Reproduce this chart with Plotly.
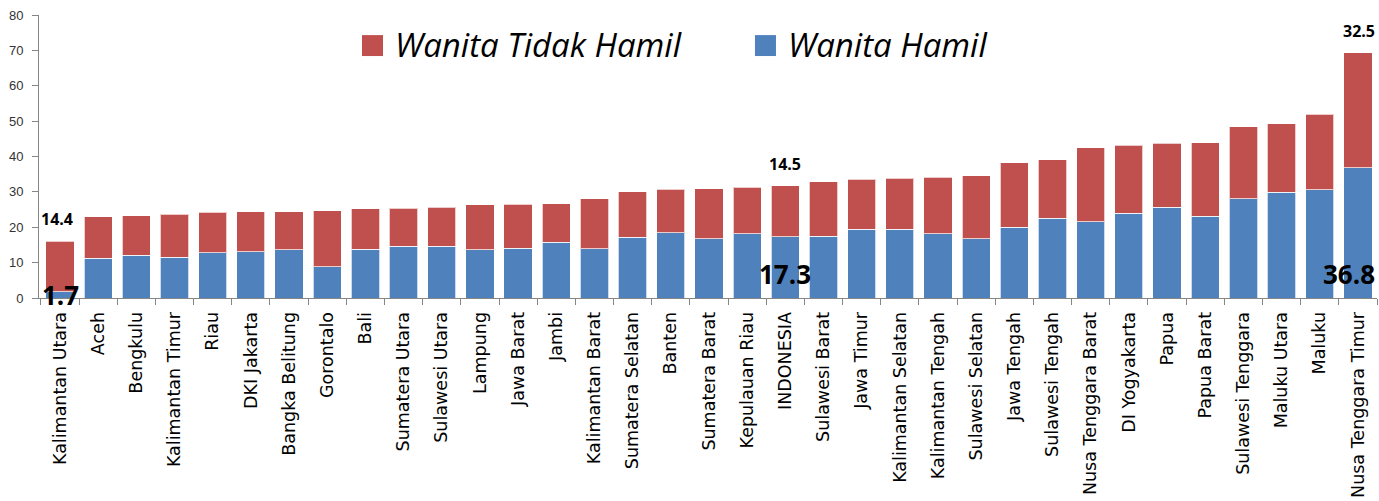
import plotly.graph_objects as go

categories = ["Kalimantan Utara", "Aceh", "Bengkulu", "Kalimantan Timur", "Riau", "DKI Jakarta",
              "Bangka Belitung", "Gorontalo", "Bali", "Sumatera Utara", "Sulawesi Utara", "Lampung",
              "Jawa Barat", "Jambi", "Kalimantan Barat", "Sumatera Selatan", "Banten", "Sumatera Barat",
              "Kepulauan Riau", "INDONESIA", "Sulawesi Barat", "Jawa Timur", "Kalimantan Selatan",
              "Kalimantan Tengah", "Sulawesi Selatan", "Jawa Tengah", "Sulawesi Tengah",
              "Nusa Tenggara Barat", "DI Yogyakarta", "Papua", "Papua Barat", "Sulawesi Tenggara",
              "Maluku Utara", "Maluku", "Nusa Tenggara Timur"]

wanita_hamil = [1.7, 11.2, 12.1, 11.5, 12.8, 13.1, 13.6, 8.8, 13.8, 14.7, 14.7, 13.6,
                14.0, 15.8, 13.9, 17.2, 18.5, 16.7, 18.2, 17.3, 17.4, 19.5, 19.5,
                18.1, 16.8, 20.0, 22.6, 21.5, 24.0, 25.7, 23.1, 28.0, 29.9, 30.6, 36.8]

wanita_tidak_hamil = [14.4, 11.8, 11.1, 12.2, 11.5, 11.3, 10.8, 15.9, 11.5, 10.7, 11.0, 12.7,
                      12.5, 10.9, 14.1, 12.8, 12.3, 14.2, 13.1, 14.5, 15.4, 14.0, 14.3,
                      16.1, 17.7, 18.2, 16.5, 21.0, 19.2, 18.1, 20.8, 20.4, 19.3, 21.4, 32.5]

y_ticks = [0, 10, 20, 30, 40, 50, 60, 70, 80]

RED = "#C0504D"
BLUE = "#4F81BD"
FONT = "Open Sans"
EDGE = "rgba(255,255,255,0.7)"

fig = go.Figure()
fig.add_trace(go.Bar(x=categories, y=wanita_hamil, name="Wanita Hamil", showlegend=False,
                     marker=dict(color=BLUE, line=dict(color=EDGE, width=1))))
fig.add_trace(go.Bar(x=categories, y=wanita_tidak_hamil, name="Wanita Tidak Hamil", showlegend=False,
                     marker=dict(color=RED, line=dict(color=EDGE, width=1))))

# custom legend (large squares + italic text)
legend_items = [("Wanita Tidak Hamil", RED, 0.2414), ("Wanita Hamil", BLUE, 0.5351)]
for name, color, x0 in legend_items:
    fig.add_shape(type="rect", xref="paper", yref="paper", x0=x0, x1=x0 + 0.0157,
                  y0=0.855, y1=0.929, fillcolor=color, line=dict(width=0))
    fig.add_annotation(xref="paper", yref="paper", x=x0 + 0.0232, y=0.894, text=name,
                       showarrow=False, xanchor="left", yanchor="middle",
                       font=dict(family=FONT, size=33, color="black", style="italic"))

# small labels above selected bars (red segment values)
last = len(categories) - 1
for idx, xa, xs in [(0, "center", -3), (categories.index("INDONESIA"), "center", 0), (last, "right", 19)]:
    total = wanita_hamil[idx] + wanita_tidak_hamil[idx]
    fig.add_annotation(x=categories[idx], y=total, text=f"<b>{wanita_tidak_hamil[idx]}</b>",
                       showarrow=False, yanchor="bottom", yshift=9, xanchor=xa, xshift=xs,
                       font=dict(family=FONT, size=16, color="black"))

# big labels at the base (blue segment values)
big = [(0, 0.8, "center", 0), (categories.index("INDONESIA"), 6.8, "center", 0), (last, 6.8, "right", 19)]
for idx, ypos, xa, xs in big:
    fig.add_annotation(x=categories[idx], y=ypos, text=f"<b>{wanita_hamil[idx]}</b>",
                       showarrow=False, yanchor="middle", xanchor=xa, xshift=xs,
                       font=dict(family=FONT, size=26, color="black"))

fig.update_layout(
    barmode="stack",
    bargap=0.26,
    width=1379, height=501,
    margin=dict(l=39, r=2, t=15, b=203, autoexpand=False),
    paper_bgcolor="white", plot_bgcolor="white",
    font=dict(family=FONT, color="black"),
    showlegend=False,
    xaxis=dict(tickangle=-90, tickfont=dict(family="DejaVu Sans", size=17.5, color="black"),
               showline=True, linecolor="#868686", linewidth=1, automargin=False,
               ticks="outside", tickson="boundaries", ticklen=6, tickcolor="#868686",
               ticklabelstandoff=6, showgrid=False),
    yaxis=dict(range=[0, 80], tickvals=y_ticks, showgrid=False, automargin=False,
               showline=True, linecolor="#868686", linewidth=1, zeroline=False,
               ticks="outside", ticklen=6, tickcolor="#868686", ticklabelstandoff=6,
               tickfont=dict(family="Liberation Sans", size=13, color="#333333")),
)

fig.write_html("out.html", config={"displayModeBar": False},
               post_script="document.body.style.margin='0';")
